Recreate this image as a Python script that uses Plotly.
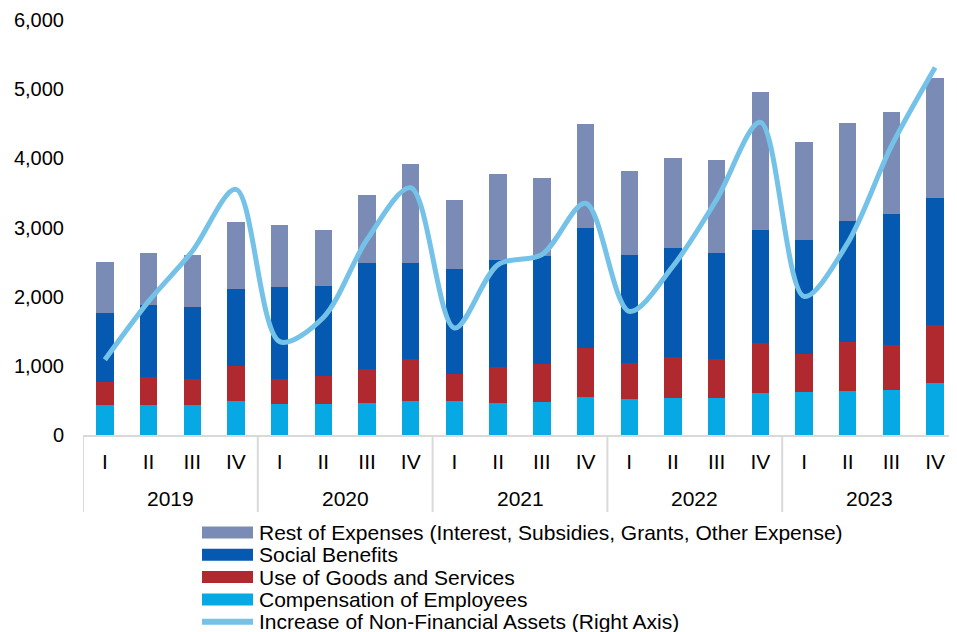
import plotly.graph_objects as go

years = ["2019", "2020", "2021", "2022", "2023"]
quarters = ["I", "II", "III", "IV"]

compensation = [435, 435, 435, 493, 449, 449, 464, 498, 493, 469, 478, 546, 527, 536, 541, 604, 628, 643, 652, 758]
goods = [329, 410, 377, 502, 363, 401, 488, 608, 396, 521, 546, 705, 512, 585, 556, 720, 541, 705, 643, 836]
social = [994, 1034, 1043, 1116, 1328, 1300, 1536, 1387, 1507, 1541, 1565, 1749, 1565, 1584, 1541, 1633, 1652, 1753, 1898, 1835]
rest = [749, 759, 749, 966, 899, 816, 985, 1430, 1000, 1237, 1121, 1502, 1217, 1300, 1343, 2000, 1416, 1416, 1478, 1735]
nonfin_assets = [1087, 1932, 2657, 3551, 1350, 1700, 2826, 3575, 1546, 2464, 2609, 3350, 1787, 2440, 3406, 4520, 2005, 2778, 4179, 5314]

n_q = len(quarters)
idx = list(range(len(years) * n_q))
q_labels = [q for _ in years for q in quarters]

c_rest = "#7A8CB6"
c_social = "#0559B0"
c_goods = "#B0292F"
c_comp = "#06A9E4"
c_line = "#74C2E8"
c_axis = "#D9D9D9"

FONT = "Liberation Sans, Arial, sans-serif"

# the page body adds an 8px offset; layout is expressed in window pixels
OFF = 8
W, H = 957 - OFF, 632 - OFF
L, T = 83 - OFF, 20 - OFF
R = 0
B = H - (435 - OFF)
PW, PH = W - L - R, H - T - B


def px_x(px):
    return (px - OFF - L) / PW


def px_y(py):
    return (H - B - (py - OFF)) / PH


fig = go.Figure()
series = [
    ("Compensation of Employees", compensation, c_comp),
    ("Use of Goods and Services", goods, c_goods),
    ("Social Benefits", social, c_social),
    ("Rest of Expenses (Interest, Subsidies, Grants, Other Expense)", rest, c_rest),
]
for name, vals, col in series:
    fig.add_trace(go.Bar(x=idx, y=vals, name=name, marker=dict(color=col, line=dict(width=0)),
                         showlegend=False))

fig.add_trace(go.Scatter(x=idx, y=nonfin_assets, name="Increase of Non-Financial Assets (Right Axis)",
                         mode="lines", line=dict(color=c_line, width=5, shape="spline", smoothing=0.9),
                         yaxis="y2", showlegend=False))

shapes = []
annotations = []

# year group labels and dividers
for k, yr in enumerate(years):
    annotations.append(dict(x=k * n_q + (n_q - 1) / 2, xref="x", y=px_y(498), yref="paper",
                            text=yr, showarrow=False, xanchor="center", yanchor="middle",
                            font=dict(size=21, family=FONT, color="#000")))
    shapes.append(dict(type="line", xref="x", yref="paper", x0=k * n_q - 0.5, x1=k * n_q - 0.5,
                       y0=0, y1=px_y(512), line=dict(color=c_axis, width=2)))

# legend drawn as keys + labels
legend_items = [
    ("Rest of Expenses (Interest, Subsidies, Grants, Other Expense)", c_rest, "rect"),
    ("Social Benefits", c_social, "rect"),
    ("Use of Goods and Services", c_goods, "rect"),
    ("Compensation of Employees", c_comp, "rect"),
    ("Increase of Non-Financial Assets (Right Axis)", c_line, "line"),
]
for i, (name, col, kind) in enumerate(legend_items):
    cy = 532.5 + i * 22.3
    if kind == "rect":
        shapes.append(dict(type="rect", xref="paper", yref="paper", x0=px_x(202), x1=px_x(253),
                           y0=px_y(cy - 6), y1=px_y(cy + 6), fillcolor=col, line=dict(width=0)))
    else:
        shapes.append(dict(type="line", xref="paper", yref="paper", x0=px_x(202), x1=px_x(253),
                           y0=px_y(cy), y1=px_y(cy), line=dict(color=col, width=6)))
    annotations.append(dict(x=px_x(257), xref="paper", y=px_y(cy), yref="paper", text=name,
                            showarrow=False, xanchor="left", yanchor="middle",
                            font=dict(size=21, family=FONT, color="#000")))

fig.update_layout(
    width=W, height=H,
    margin=dict(l=L, r=R, t=T, b=B, autoexpand=False),
    barmode="stack",
    bargap=0.6,
    plot_bgcolor="white",
    paper_bgcolor="white",
    font=dict(family=FONT, size=20, color="#000000"),
    showlegend=False,
    shapes=shapes,
    annotations=annotations,
    xaxis=dict(range=[-0.5, len(idx) - 0.5], tickmode="array", tickvals=idx, ticktext=q_labels,
               showline=True, linecolor=c_axis, linewidth=2, showgrid=False, zeroline=False,
               ticks="", tickfont=dict(size=21), ticklabelstandoff=7, automargin=False),
    yaxis=dict(range=[0, 6000], tickvals=[0, 1000, 2000, 3000, 4000, 5000, 6000],
               tickformat=",d", showgrid=False, zeroline=False, showline=False,
               ticks="", tickfont=dict(size=20), ticklabelstandoff=18, automargin=False),
    yaxis2=dict(range=[0, 6000], overlaying="y", side="right", visible=False),
)

fig.write_html("out.html")
